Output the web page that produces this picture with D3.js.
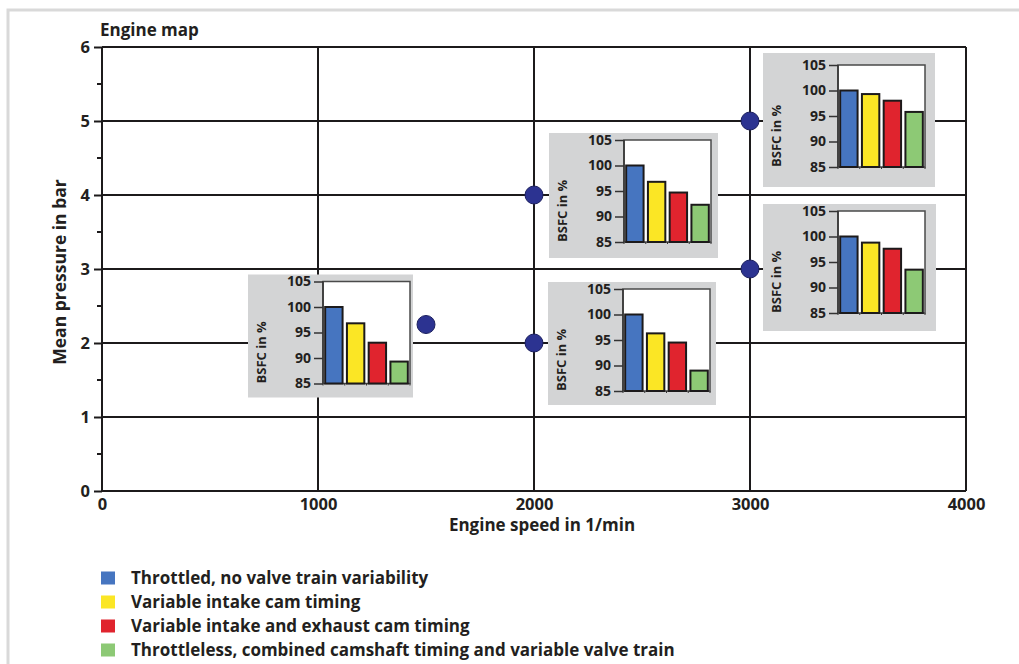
<!DOCTYPE html>
<html>
<head>
<meta charset="utf-8">
<script src="https://cdn.jsdelivr.net/npm/d3@7"></script>
<style>
  html, body { margin: 0; padding: 0; background: #fff; }
  svg { display: block; }
  text { font-family: "Open Sans", "Noto Sans", sans-serif; font-weight: 700; fill: #231f20; }
</style>
</head>
<body>
<svg id="chart" width="1019" height="664"></svg>
<script>
// ---------- data ----------
const seriesNames = [
  "Throttled, no valve train variability",
  "Variable intake cam timing",
  "Variable intake and exhaust cam timing",
  "Throttleless, combined camshaft timing and variable valve train"
];
const seriesColors = ["#4675c0", "#fbe625", "#e0242e", "#8dc975"];

const speedTicks = [0, 1000, 2000, 3000, 4000];
const pressureTicks = [0, 1, 2, 3, 4, 5, 6];
const bsfcTicks = [85, 90, 95, 100, 105];

const opSpeeds    = [1500, 2000, 2000, 3000, 3000];
const opPressures = [2.25, 4, 2, 5, 3];

const bsfc1500_2_25 = [100, 96.8, 93.0, 89.3];
const bsfc2000_4    = [100, 96.8, 94.7, 92.3];
const bsfc2000_2    = [100, 96.3, 94.5, 89.0];
const bsfc3000_5    = [100, 99.3, 98.0, 95.8];
const bsfc3000_3    = [100, 98.8, 97.6, 93.5];
const bsfcSets = [bsfc1500_2_25, bsfc2000_4, bsfc2000_2, bsfc3000_5, bsfc3000_3];

// inset box placement relative to operating point (layout, not data)
const insetLayout = [
  { dx: -178, dy: -50, w: 165, h: 123, pt: 7 },
  { dx: 15,   dy: -62, w: 169, h: 125, pt: 7 },
  { dx: 14,   dy: -61, w: 168, h: 123, pt: 7 },
  { dx: 13,   dy: -68, w: 172, h: 134, pt: 12 },
  { dx: 13,   dy: -65, w: 173, h: 127, pt: 7 }
];

// ---------- chart ----------
const svg = d3.select("#chart");
const ink = "#1c1a1b";

// outer frame
svg.append("path")
  .attr("d", "M8,670 L8,10 L1030,10")
  .attr("fill", "none").attr("stroke", "#d9d9d9").attr("stroke-width", 3);

const x = d3.scaleLinear().domain([0, 4000]).range([102, 966]);
const y = d3.scaleLinear().domain([0, 6]).range([491, 47]);

const g = svg.append("g");

// grid
g.selectAll("line.vg").data(speedTicks.slice(1)).join("line")
  .attr("x1", d => x(d)).attr("x2", d => x(d))
  .attr("y1", y(0)).attr("y2", y(6))
  .attr("stroke", ink).attr("stroke-width", 2);
g.selectAll("line.hg").data(pressureTicks.slice(1)).join("line")
  .attr("x1", x(0)).attr("x2", x(4000))
  .attr("y1", d => y(d)).attr("y2", d => y(d))
  .attr("stroke", ink).attr("stroke-width", 2);

// y axis
const yAxis = d3.axisLeft(y).tickValues(pressureTicks).tickSize(8).tickPadding(4).tickFormat(d3.format("d"));
const ya = g.append("g").attr("transform", `translate(${x(0)},0)`).call(yAxis);
ya.select(".domain").attr("stroke", ink).attr("stroke-width", 2).attr("d", `M0,${y(0)}V${y(6)}`);
ya.selectAll(".tick line").attr("stroke", ink).attr("stroke-width", 2);
ya.selectAll(".tick text").style("font-size", "16.5px").attr("fill", ink);
// minor ticks
const minor = d3.range(0.5, 6, 1);
g.selectAll("line.minor").data(minor).join("line")
  .attr("x1", x(0) - 5).attr("x2", x(0))
  .attr("y1", d => y(d)).attr("y2", d => y(d))
  .attr("stroke", ink).attr("stroke-width", 2);

// x axis
const xAxis = d3.axisBottom(x).tickValues(speedTicks).tickSize(0).tickPadding(7).tickFormat(d3.format("d"));
const xa = g.append("g").attr("transform", `translate(0,${y(0)})`).call(xAxis);
xa.select(".domain").attr("stroke", ink).attr("stroke-width", 2).attr("d", `M${x(0)},0H${x(4000)}`);
xa.selectAll(".tick text").style("font-size", "16.5px").attr("fill", ink);

// titles
svg.append("text").attr("x", 100).attr("y", 36).style("font-size", "17px").text("Engine map");
svg.append("text").attr("x", 542).attr("y", 531).attr("text-anchor", "middle")
  .style("font-size", "17px").text("Engine speed in 1/min");
svg.append("text").attr("transform", `translate(66,${y(3) + 3}) rotate(-90)`).attr("text-anchor", "middle")
  .style("font-size", "17.5px").text("Mean pressure in bar");

// operating points
const ops = opSpeeds.map((s, i) => ({ s, p: opPressures[i], vals: bsfcSets[i], lay: insetLayout[i] }));
g.selectAll("circle.op").data(ops).join("circle")
  .attr("cx", d => x(d.s)).attr("cy", d => y(d.p)).attr("r", 9)
  .attr("fill", "#2c3391").attr("stroke", "#1b1f5e").attr("stroke-width", 1);

// insets
const band = d3.scaleBand().domain(d3.range(4)).range([0, 87]).paddingInner(0.2).paddingOuter(0.1);
ops.forEach(op => {
  const L = op.lay;
  const bx = x(op.s) + L.dx, by = y(op.p) + L.dy;
  const ig = svg.append("g").attr("transform", `translate(${bx},${by})`);
  ig.append("rect").attr("width", L.w).attr("height", L.h).attr("fill", "#d3d4d5");
  const pl = 75, pw = 87, ph = 102, pt = L.pt;
  const iy = d3.scaleLinear().domain([85, 105]).range([pt + ph, pt]);
  const pg = ig.append("g").attr("transform", `translate(${pl},0)`);
  pg.append("rect").attr("x", 0).attr("y", pt).attr("width", pw).attr("height", ph)
    .attr("fill", "#fff").attr("stroke", "#4a4a4a").attr("stroke-width", 1.5);
  pg.selectAll("rect.bar").data(op.vals).join("rect")
    .attr("x", (d, i) => band(i)).attr("width", band.bandwidth())
    .attr("y", d => iy(d)).attr("height", d => iy(85) - iy(d))
    .attr("fill", (d, i) => seriesColors[i]).attr("stroke", ink).attr("stroke-width", 2);
  // small ticks along bottom at band boundaries
  const bnd = [0, ...d3.range(1, 4).map(i => band(i) - band.step() * band.paddingInner() / 2), pw];
  pg.selectAll("line.bt").data(bnd).join("line")
    .attr("x1", d => d).attr("x2", d => d).attr("y1", pt + ph).attr("y2", pt + ph + 2)
    .attr("stroke", "#333").attr("stroke-width", 1);
  const ax = d3.axisLeft(iy).tickValues(bsfcTicks).tickSize(9).tickPadding(3).tickFormat(d3.format("d"));
  const aa = pg.append("g").call(ax);
  aa.select(".domain").attr("stroke", "#333").attr("stroke-width", 1.5).attr("d", `M0,${pt + ph}V${pt}`);
  aa.selectAll(".tick line").attr("stroke", "#333").attr("stroke-width", 1.5);
  aa.selectAll(".tick text").style("font-size", "14px").attr("fill", ink);
  ig.append("text").attr("transform", `translate(18,${pt + ph}) rotate(-90)`)
    .attr("text-anchor", "start").style("font-size", "13px").text("BSFC in %");
});

// legend
const lg = svg.append("g");
seriesNames.forEach((name, i) => {
  const cy = 578 + i * 24;
  lg.append("rect").attr("x", 101).attr("y", cy - 6.5).attr("width", 14).attr("height", 13).attr("fill", seriesColors[i]);
  lg.append("text").attr("x", 131).attr("y", cy + 6).style("font-size", "17px").text(name);
});
</script>
</body>
</html>
